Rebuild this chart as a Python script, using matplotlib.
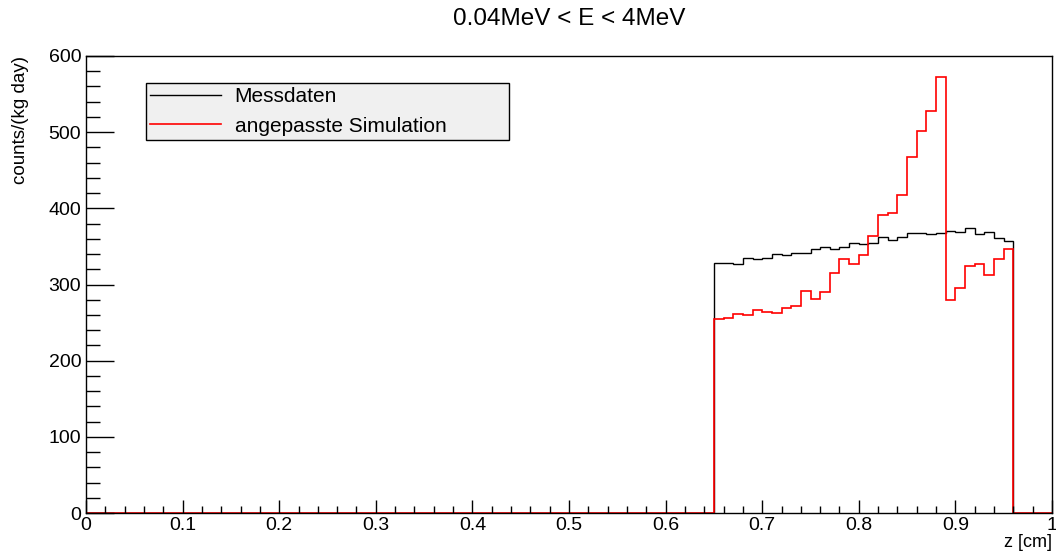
import numpy as np
import matplotlib
matplotlib.use("Agg")
import matplotlib.pyplot as plt
from matplotlib.ticker import MultipleLocator

plt.rcParams['font.family'] = ['Liberation Sans', 'DejaVu Sans']

# bin layout: 100 bins from 0 to 1 cm, only 0.65..0.96 filled
bin_edges = np.linspace(0, 1, 101)
first_bin = 65

messdaten = [328, 328, 327, 335, 334, 335, 340, 339, 341, 341,
             346, 349, 346, 349, 354, 353, 354, 362, 358, 363,
             367, 367, 366, 367, 370, 369, 374, 366, 369, 361, 357]
simulation = [255, 256, 261, 260, 266, 264, 262, 269, 272, 292,
              281, 290, 315, 333, 327, 339, 364, 391, 394, 418,
              467, 502, 528, 572, 280, 295, 324, 327, 312, 333, 346]

h_mess = np.zeros(100)
h_mess[first_bin:first_bin + len(messdaten)] = messdaten
h_sim = np.zeros(100)
h_sim[first_bin:first_bin + len(simulation)] = simulation

fig = plt.figure(figsize=(10.56, 5.55), dpi=100)
ax = fig.add_axes([86 / 1056, 42 / 555, 966 / 1056, 457 / 555])

ax.stairs(h_mess, bin_edges, color="black", lw=1.0, label="Messdaten")
ax.stairs(h_sim, bin_edges, color="#ff0000", lw=1.2, label="angepasste Simulation")

ax.set_xlim(0, 1)
ax.set_ylim(0, 600)
ax.xaxis.set_major_locator(MultipleLocator(0.1))
ax.xaxis.set_minor_locator(MultipleLocator(0.02))
ax.yaxis.set_major_locator(MultipleLocator(100))
ax.yaxis.set_minor_locator(MultipleLocator(20))
ax.xaxis.set_major_formatter(plt.FuncFormatter(lambda v, p: "%g" % round(v, 2)))

ax.tick_params(axis="x", which="major", direction="in", length=9.4, width=1, labelsize=14, pad=3)
ax.tick_params(axis="x", which="minor", direction="in", length=4.8, width=1)
ax.tick_params(axis="y", which="major", direction="in", length=20.5, width=1, labelsize=14, pad=3.5)
ax.tick_params(axis="y", which="minor", direction="in", length=10, width=1)
for s in ax.spines.values():
    s.set_linewidth(1)

ax.set_title("0.04MeV < E < 4MeV", fontsize=17.5, pad=22)
ax.set_xlabel("z [cm]", fontsize=13, loc="right", labelpad=0)
ax.set_ylabel("counts/(kg day)", fontsize=13.5, loc="top", labelpad=14)

leg = ax.legend(loc="upper left", bbox_to_anchor=(60 / 966, 1 - 27 / 457, 363 / 966, 0),
                mode="expand", fontsize=15, fancybox=False, framealpha=1,
                edgecolor="black", handlelength=3.4, handletextpad=0.65,
                borderpad=0.2, labelspacing=0.5, borderaxespad=0)
leg.get_frame().set_facecolor("#f0f0f0")
leg.get_frame().set_linewidth(1)

fig.savefig("out.png", dpi=100)
